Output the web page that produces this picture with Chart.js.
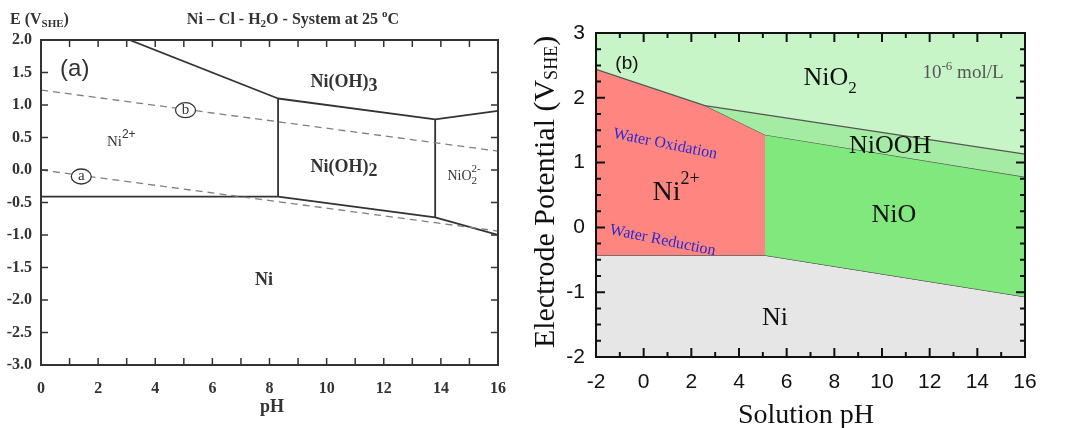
<!DOCTYPE html>
<html>
<head>
<meta charset="utf-8">
<script src="https://cdn.jsdelivr.net/npm/chart.js"></script>
<style>
  body { margin: 0; background: #fff; width: 1086px; height: 428px; overflow: hidden; }
  #left { position: absolute; left: 0; top: 0; }
  #right { position: absolute; left: 520px; top: 0; }
</style>
</head>
<body>
<canvas id="left" width="520" height="428"></canvas>
<canvas id="right" width="566" height="428"></canvas>
<script>
// panel (a): Ni - Cl - H2O, [pH, E] boundary points
const aNi = [[0, -0.41], [8.3, -0.41]];
const aTop = [[3.1, 2.0], [8.3, 1.1]];
const aOH3 = [[8.3, 1.1], [13.8, 0.78], [16, 0.91]];
const aLow = [[8.3, -0.41], [13.8, -0.73], [16, -1.0]];
const aWall1 = [[8.3, -0.41], [8.3, 1.1]];
const aWall2 = [[13.8, 0.78], [13.8, -0.73]];
const aWaterB = [[0, 1.23], [16, 0.29]];
const aWaterA = [[0, 0], [16, -0.94]];

// panel (b): 10^-6 mol/L
const bNiO2Edge = [[-2, 2.44], [2.57, 1.88], [16, 1.13]];
const bNiOOHTop = [[2.57, 1.88], [16, 1.13]];
const bNiOOHBottom = [[2.57, 1.88], [5.09, 1.43], [16, 0.78]];
const bNiOTop = [[5.09, 1.43], [16, 0.78]];
const bNiOBottom = [[5.09, -0.43], [16, -1.07]];
const bNi2Top = [[-2, 2.44], [2.57, 1.88], [5.09, 1.43]];
const bNi2Bottom = [[-2, -0.43], [5.09, -0.43]];
const bNiEdge = [[-2, -0.43], [5.09, -0.43], [16, -1.07]];
const bWall = [[5.09, -0.43], [5.09, 1.43]];
const bWaterOx = [[-2, 1.347], [16, 0.283]];
const bWaterRed = [[-2, 0.118], [16, -0.946]];

const pts = a => a.map(([x, y]) => ({x, y}));
const SERIF = '"Liberation Serif", "Times New Roman", serif';
const SANS = '"Liberation Sans", Arial, sans-serif';

// draws text made of parts (sub/superscripts), x is centre or left
function rich(ctx, x, y, parts, align) {
  let w = 0;
  parts.forEach(p => {
    ctx.font = p.f;
    p.w = ctx.measureText(p.t).width;
    if (p.adv !== false) w += p.w;
  });
  let cx = align === 'left' ? x : x - w / 2;
  parts.forEach(p => {
    ctx.font = p.f;
    ctx.fillText(p.t, cx, y + (p.dy || 0));
    if (p.adv !== false) cx += p.w;
  });
}

function line(data, color, width, dash) {
  return {data: pts(data), borderColor: color, borderWidth: width, borderDash: dash || [],
          pointRadius: 0, fill: false, tension: 0};
}

// ---------- panel (a) ----------
const panelA = {
  id: 'panelA',
  afterDraw(chart) {
    const {ctx, chartArea: a, scales: {x, y}} = chart;
    const P = (px, py) => [x.getPixelForValue(px), y.getPixelForValue(py)];
    ctx.save();
    ctx.strokeStyle = '#333';
    ctx.lineWidth = 1.5;
    ctx.beginPath();
    for (let v = 1; v < 16; v++) {
      const p = x.getPixelForValue(v);
      ctx.moveTo(p, a.top); ctx.lineTo(p, a.top + 7);
      ctx.moveTo(p, a.bottom); ctx.lineTo(p, a.bottom - 7);
    }
    for (let v = -2.5; v < 2; v += 0.5) {
      const p = y.getPixelForValue(v);
      ctx.moveTo(a.left, p); ctx.lineTo(a.left + 7, p);
      ctx.moveTo(a.right, p); ctx.lineTo(a.right - 7, p);
    }
    ctx.stroke();
    ctx.lineWidth = 2;
    ctx.strokeRect(a.left, a.top, a.width, a.height);

    // circled labels on the water lines
    [['a', 1.41, -0.10], ['b', 5.06, 0.92]].forEach(([t, px, py]) => {
      const [cx, cy] = P(px, py);
      ctx.beginPath();
      ctx.ellipse(cx, cy, 10, 7.5, 0, 0, Math.PI * 2);
      ctx.fillStyle = '#fff'; ctx.fill();
      ctx.lineWidth = 1.3; ctx.strokeStyle = '#333'; ctx.stroke();
      ctx.fillStyle = '#333'; ctx.font = '15px ' + SERIF;
      ctx.textAlign = 'center'; ctx.textBaseline = 'middle';
      ctx.fillText(t, cx, cy);
    });

    ctx.textAlign = 'left';
    ctx.textBaseline = 'middle';
    ctx.fillStyle = '#333';
    let [tx, ty] = P(1.18, 1.55);
    ctx.font = '24px ' + SANS;
    ctx.textAlign = 'center';
    ctx.fillText('(a)', tx, ty);

    ctx.textAlign = 'left';
    ctx.textBaseline = 'alphabetic';
    const B19 = 'bold 18px ' + SERIF;
    [tx, ty] = P(2.81, 0.37);
    rich(ctx, tx, ty, [{t: 'Ni', f: '15px ' + SERIF}, {t: '2+', f: '12px ' + SANS, dy: -8}]);
    [tx, ty] = P(10.61, 1.28);
    rich(ctx, tx, ty, [{t: 'Ni(OH)', f: B19}, {t: '3', f: B19, dy: 4}]);
    [tx, ty] = P(10.61, -0.03);
    rich(ctx, tx, ty, [{t: 'Ni(OH)', f: B19}, {t: '2', f: B19, dy: 4}]);
    [tx, ty] = P(14.75, -0.15);
    rich(ctx, tx, ty, [{t: 'NiO', f: '14px ' + SERIF}, {t: '2-', f: '11px ' + SERIF, dy: -8, adv: false},
                       {t: '2', f: '11px ' + SERIF, dy: 4}]);
    [tx, ty] = P(7.81, -1.77);
    rich(ctx, tx, ty, [{t: 'Ni', f: B19}]);

    // title and axis names
    const B16 = 'bold 16px ' + SERIF, B11 = 'bold 11px ' + SERIF;
    rich(ctx, 293, 24, [{t: 'Ni \u2013 Cl - H', f: B16}, {t: '2', f: B11, dy: 3},
                        {t: 'O - System at 25 ', f: B16}, {t: 'o', f: B11, dy: -7}, {t: 'C', f: B16}]);
    rich(ctx, 10, 24, [{t: 'E (V', f: B16}, {t: 'SHE', f: B11, dy: 3}, {t: ')', f: B16}], 'left');
    rich(ctx, 272, 412, [{t: 'pH', f: 'bold 18px ' + SERIF}]);
    ctx.restore();
  }
};

const solid = '#333', dashed = '#808080';
new Chart(document.getElementById('left'), {
  type: 'line',
  data: {
    datasets: [
      line(aWaterB, dashed, 1.3, [7, 5]),
      line(aWaterA, dashed, 1.3, [7, 5]),
      line(aNi, solid, 1.8),
      line(aTop, solid, 1.8),
      line(aOH3, solid, 1.8),
      line(aLow, solid, 1.8),
      line(aWall1, solid, 1.8),
      line(aWall2, solid, 1.8)
    ]
  },
  options: {
    responsive: false,
    animation: false,
    layout: {padding: {top: 40, right: 18, left: 0, bottom: 0}},
    plugins: {legend: {display: false}, tooltip: {enabled: false}},
    scales: {
      x: {
        type: 'linear', min: 0, max: 16,
        grid: {display: false, drawTicks: false}, border: {display: false},
        ticks: {stepSize: 2, autoSkip: false, maxRotation: 0, padding: 14, color: '#333',
                font: {family: SERIF, size: 16, weight: 'bold'}},
        afterFit: s => { s.height = 63; }
      },
      y: {
        min: -3, max: 2,
        grid: {display: false, drawTicks: false}, border: {display: false},
        ticks: {stepSize: 0.5, autoSkip: false, padding: 9, color: '#333',
                font: {family: SERIF, size: 16, weight: 'bold'},
                callback: v => v.toFixed(1)},
        afterFit: s => { s.width = 41; }
      }
    }
  },
  plugins: [panelA]
});

// ---------- panel (b) ----------
const panelB = {
  id: 'panelB',
  afterDraw(chart) {
    const {ctx, chartArea: a, scales: {x, y}} = chart;
    const P = (px, py) => [x.getPixelForValue(px), y.getPixelForValue(py)];
    ctx.save();
    ctx.strokeStyle = '#111';
    ctx.lineWidth = 2;
    ctx.beginPath();
    for (let v = -1; v < 16; v++) {
      const p = x.getPixelForValue(v), len = v % 2 === 0 ? 9 : 5;
      ctx.moveTo(p, a.top); ctx.lineTo(p, a.top + len);
      ctx.moveTo(p, a.bottom); ctx.lineTo(p, a.bottom - len);
    }
    for (let v = -1.75; v < 3; v += 0.25) {
      const p = y.getPixelForValue(v), len = Number.isInteger(v) ? 9 : 5;
      ctx.moveTo(a.left, p); ctx.lineTo(a.left + len, p);
      ctx.moveTo(a.right, p); ctx.lineTo(a.right - len, p);
    }
    ctx.stroke();
    ctx.strokeRect(a.left, a.top, a.width, a.height);

    ctx.fillStyle = '#111';
    const F26 = '26px ' + SERIF, F17 = '17px ' + SERIF;
    let [tx, ty] = P(-0.7, 2.53);
    ctx.textBaseline = 'middle';
    rich(ctx, tx, ty, [{t: '(b)', f: '19px ' + SANS}]);
    ctx.textBaseline = 'alphabetic';
    [tx, ty] = P(7.82, 2.19);
    rich(ctx, tx, ty, [{t: 'NiO', f: F26}, {t: '2', f: F17, dy: 8}]);
    [tx, ty] = P(10.34, 1.15);
    rich(ctx, tx, ty, [{t: 'NiOOH', f: F26}]);
    [tx, ty] = P(1.36, 0.42);
    rich(ctx, tx, ty, [{t: 'Ni', f: '28px ' + SERIF}, {t: '2+', f: '18px ' + SERIF, dy: -16}]);
    [tx, ty] = P(10.5, 0.083);
    rich(ctx, tx, ty, [{t: 'NiO', f: F26}]);
    [tx, ty] = P(5.51, -1.51);
    rich(ctx, tx, ty, [{t: 'Ni', f: F26}]);
    ctx.fillStyle = '#555';
    [tx, ty] = P(13.4, 2.31);
    rich(ctx, tx, ty, [{t: '10', f: '19px ' + SERIF}, {t: '-6', f: '13px ' + SERIF, dy: -8},
                       {t: ' mol/L', f: '19px ' + SERIF}]);

    // labels along the water lines
    const [x0, y0] = P(bWaterOx[0][0], bWaterOx[0][1]);
    const [x1, y1] = P(bWaterOx[1][0], bWaterOx[1][1]);
    const ang = Math.atan2(y1 - y0, x1 - x0) + 0.04;
    ctx.fillStyle = '#2a2ad0';
    [['Water Oxidation', bWaterOx, -5], ['Water Reduction', bWaterRed, 12]].forEach(([t, ln, off]) => {
      const ph = -1.35;
      const e = ln[0][1] + (ln[1][1] - ln[0][1]) * (ph - ln[0][0]) / (ln[1][0] - ln[0][0]);
      const [ax, ay] = P(ph, e);
      ctx.save();
      ctx.translate(ax, ay);
      ctx.rotate(ang);
      ctx.font = '16px ' + SERIF;
      ctx.textAlign = 'left';
      ctx.fillText(t, 0, off);
      ctx.restore();
    });

    // axis names
    ctx.fillStyle = '#111';
    rich(ctx, 806 - 520, 423, [{t: 'Solution pH', f: '28px ' + SERIF}]);
    ctx.save();
    ctx.translate(554 - 520, 192);
    ctx.rotate(-Math.PI / 2);
    rich(ctx, 0, 0, [{t: 'Electrode Potential (V', f: '30px ' + SERIF}, {t: 'SHE', f: '18px ' + SERIF, dy: 3},
                     {t: ')', f: '30px ' + SERIF}]);
    ctx.restore();
    ctx.restore();
  }
};

const edge = '#555';
const area = (data, color, fill, border) => ({
  data: pts(data), backgroundColor: color, fill: fill, borderColor: border || 'transparent',
  borderWidth: border ? 1.2 : 0, pointRadius: 0, tension: 0
});

new Chart(document.getElementById('right'), {
  type: 'line',
  data: {
    datasets: [
      area(bNiO2Edge, '#c8f5c8', 'end', edge),   // 0 NiO2
      area(bNiOOHTop, '#a4eca4', 2),             // 1 NiOOH
      area(bNiOOHBottom, 'transparent', false, edge), // 2
      area(bNiOTop, '#80e87c', 4),               // 3 NiO
      area(bNiOBottom, 'transparent', false, edge),   // 4
      area(bNi2Top, '#ff8680', 6),               // 5 Ni2+
      area(bNi2Bottom, 'transparent', false, edge),   // 6
      area(bNiEdge, '#e6e6e6', 'start', edge),   // 7 Ni
      line(bWall, edge, 1.2),
      line(bWaterOx, '#1f1fe6', 2, [5, 3]),
      line(bWaterRed, '#1f1fe6', 2, [5, 3])
    ]
  },
  options: {
    responsive: false,
    animation: false,
    layout: {padding: {top: 33, right: 61, left: 0, bottom: 0}},
    plugins: {legend: {display: false}, tooltip: {enabled: false}},
    scales: {
      x: {
        type: 'linear', min: -2, max: 16,
        grid: {display: false, drawTicks: false}, border: {display: false},
        ticks: {stepSize: 2, autoSkip: false, maxRotation: 0, padding: 13, color: '#111',
                font: {family: SANS, size: 21}},
        afterFit: s => { s.height = 71; }
      },
      y: {
        min: -2, max: 3,
        grid: {display: false, drawTicks: false}, border: {display: false},
        ticks: {stepSize: 1, autoSkip: false, padding: 11, color: '#111',
                font: {family: SANS, size: 21}},
        afterFit: s => { s.width = 76; }
      }
    }
  },
  plugins: [panelB]
});
</script>
</body>
</html>
